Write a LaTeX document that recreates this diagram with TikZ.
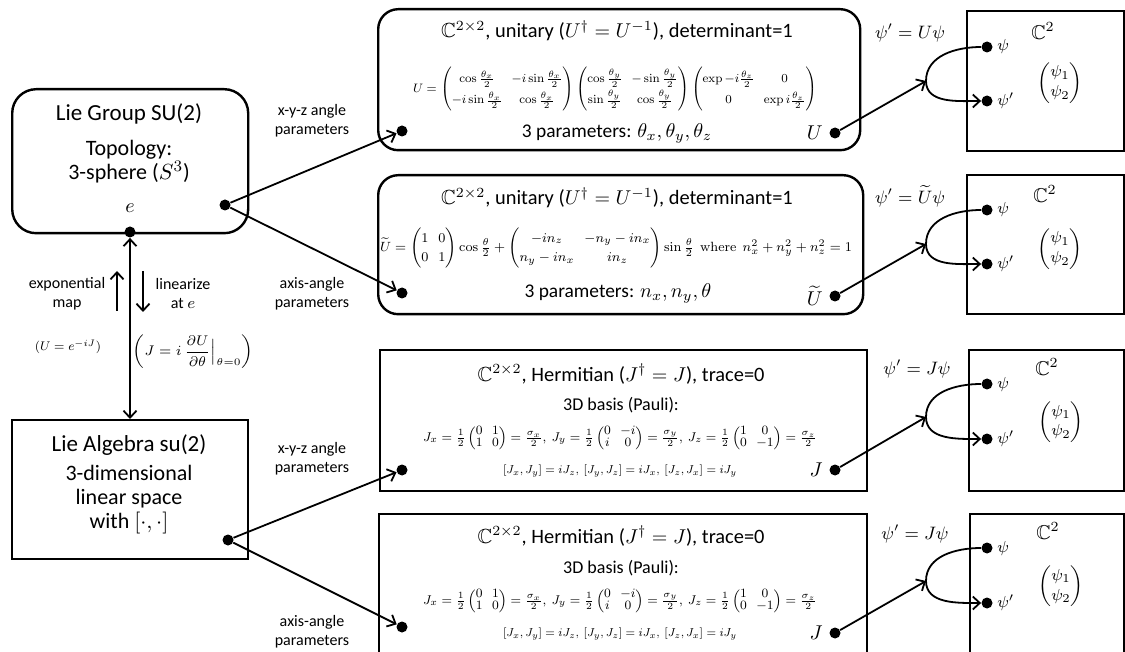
\documentclass[tikz,border=0pt]{standalone}
\usepackage{amsmath,amssymb}
\usepackage{graphicx}
\usepackage[no-math]{fontspec}
\setmainfont{Carlito}
\usetikzlibrary{arrows.meta,positioning,calc}

\tikzset{
  roundbox/.style={draw=black, line width=1.2pt, rounded corners=10pt,
    anchor=north west, inner sep=0pt},
  plainbox/.style={draw=black, line width=1.2pt, anchor=north west, inner sep=0pt},
  dot/.style={circle, fill=black, inner sep=0pt, minimum size=5.5pt},
  conn/.style={line width=0.9pt, -{Straight Barb[length=3.5pt,width=6.5pt]}},
  bigtext/.style={font=\fontsize{11.5}{13}\selectfont},
  subtext/.style={font=\fontsize{11}{12}\selectfont, align=center},
  smalltext/.style={font=\fontsize{8}{9.5}\selectfont, align=center},
  titletext/.style={font=\fontsize{10.2}{12}\selectfont},
  paramtext/.style={font=\fontsize{9.7}{12}\selectfont},
  formtext/.style={font=\fontsize{8}{9.6}\selectfont, inner sep=0pt,
    execute at begin node={\setlength{\arraycolsep}{3pt}}},
  symtext/.style={font=\fontsize{10}{12}\selectfont, inner sep=1pt},
  eqtext/.style={font=\fontsize{9}{11}\selectfont, inner sep=1pt},
  psitext/.style={font=\fontsize{8.5}{10}\selectfont, inner sep=1pt}
}

\newcommand{\paulirow}{\resizebox{197pt}{!}{$J_x=\frac{1}{2}\begin{pmatrix}0&1\\1&0\end{pmatrix}=\frac{\sigma_x}{2},\ J_y=\frac{1}{2}\begin{pmatrix}0&-i\\i&0\end{pmatrix}=\frac{\sigma_y}{2},\ J_z=\frac{1}{2}\begin{pmatrix}1&0\\0&-1\end{pmatrix}=\frac{\sigma_z}{2}$}}
\newcommand{\commrow}{\resizebox{117pt}{!}{$[J_x,J_y]=iJ_z,\ [J_y,J_z]=iJ_x,\ [J_z,J_x]=iJ_y$}}

\begin{document}
\begin{tikzpicture}[x=0.5pt,y=-0.5pt]
  \clip (0,0) rectangle (1125,652);

  % left column: group and algebra
  \node[roundbox, rounded corners=12pt, minimum width=118pt, minimum height=72pt] (grp) at (11,88) {};
  \node[bigtext] (grpT) at (129,114) {Lie Group SU(2)};
  \node[subtext] (grpS) at (129,162) {Topology:\\3-sphere ($S^3$)};
  \node[symtext] (eLbl) at (130,208) {$e$};
  \node[dot] (eDot) at (130,232) {};
  \node[dot] (grpDot) at (225,205) {};

  \node[plainbox, minimum width=118pt, minimum height=69.5pt] (alg) at (11,419) {};
  \node[bigtext] (algT) at (129,445) {Lie Algebra su(2)};
  \node[subtext] (algS) at (129,500) {3-dimensional\\linear space\\with $[\cdot,\cdot]$};
  \node[dot] (algDot) at (228,540) {};

  \draw[line width=0.9pt, {Straight Barb[length=3.5pt,width=6.5pt]}-{Straight Barb[length=3.5pt,width=6.5pt]}]
    (eDot) -- (eDot |- alg.north);

  % exponential map / linearize
  \coordinate (expS) at (117,311);
  \coordinate (expE) at (117,271);
  \coordinate (linS) at (143,271);
  \coordinate (linE) at (143,312);
  \draw[conn] (expS) -- (expE);
  \draw[conn] (linS) -- (linE);
  \node[smalltext] (expLbl) at (67,294) {exponential\\map};
  \node[smalltext] (linLbl) at (183,294) {linearize\\at $e$};
  \node[formtext] (expEq) at (68,347) {\resizebox{33pt}{!}{$(U=e^{-iJ})$}};
  \node[font=\fontsize{7}{8}\selectfont, inner sep=0pt] (linEq) at (193,352)
    {$\left(J=i\,\dfrac{\partial U}{\partial\theta}\Big|_{\theta=0}\right)$};

  % parameter labels
  \node[smalltext] (parA) at (312,121) {x-y-z angle\\parameters};
  \node[smalltext] (parB) at (312,294) {axis-angle\\parameters};
  \node[smalltext] (parC) at (312,459) {x-y-z angle\\parameters};
  \node[smalltext] (parD) at (312,632) {axis-angle\\parameters};

  % middle column
  \node[roundbox, minimum width=241pt, minimum height=70.5pt] (unA) at (377,8) {};
  \node[titletext] (unAT) at (617,31) {$\mathbb{C}^{2\times 2}$, unitary ($U^\dagger=U^{-1}$), determinant=1};
  \node[formtext] (unAF) at (615,89) {\renewcommand{\arraystretch}{1.45}%
    \resizebox{202pt}{!}{$U=\begin{pmatrix}\cos\frac{\theta_x}{2} & -i\sin\frac{\theta_x}{2}\\ -i\sin\frac{\theta_x}{2} & \cos\frac{\theta_x}{2}\end{pmatrix}\begin{pmatrix}\cos\frac{\theta_y}{2} & -\sin\frac{\theta_y}{2}\\ \sin\frac{\theta_y}{2} & \cos\frac{\theta_y}{2}\end{pmatrix}\begin{pmatrix}\exp -i\frac{\theta_z}{2} & 0\\ 0 & \exp i\frac{\theta_z}{2}\end{pmatrix}$}};
  \node[paramtext] (unAP) at (617,133) {3 parameters: $\theta_x,\theta_y,\theta_z$};
  \node[dot] (unADot) at (402,131) {};
  \node[dot] (uA) at (835,133) {};
  \node[symtext, left=2pt of uA] (uALbl) {$U$};

  \node[roundbox, minimum width=242.5pt, minimum height=69.5pt] (unB) at (377,174) {};
  \node[titletext] (unBT) at (617,198) {$\mathbb{C}^{2\times 2}$, unitary ($U^\dagger=U^{-1}$), determinant=1};
  \node[formtext] (unBF) at (616,248) {\renewcommand{\arraystretch}{1.2}%
    \resizebox{236pt}{!}{$\widetilde{U}=\begin{pmatrix}1&0\\0&1\end{pmatrix}\cos\frac{\theta}{2}+\begin{pmatrix}-in_z & -n_y-in_x\\ n_y-in_x & in_z\end{pmatrix}\sin\frac{\theta}{2}\ \ \mathrm{where}\ \ n_x^2+n_y^2+n_z^2=1$}};
  \node[paramtext] (unBP) at (618,293) {3 parameters: $n_x,n_y,\theta$};
  \node[dot] (unBDot) at (402,293) {};
  \node[dot] (uB) at (835,296) {};
  \node[symtext, left=2pt of uB] (uBLbl) {$\widetilde{U}$};

  \node[plainbox, minimum width=243.5pt, minimum height=70.5pt] (hmC) at (379,349) {};
  \node[titletext] (hmCT) at (621,374) {$\mathbb{C}^{2\times 2}$, Hermitian ($J^\dagger=J$), trace=0};
  \node[font=\fontsize{9}{11}\selectfont] (hmCB) at (621,405) {3D basis (Pauli):};
  \node[formtext] (hmCF) at (620,438) {\renewcommand{\arraystretch}{0.8}\paulirow};
  \node[formtext] (hmCC) at (620,471) {\commrow};
  \node[dot] (hmCDot) at (402,470) {};
  \node[dot] (jC) at (835,470) {};
  \node[symtext, left=2pt of jC] (jCLbl) {$J$};

  \node[plainbox, minimum width=244pt, minimum height=80pt] (hmD) at (378,513) {};
  \node[titletext] (hmDT) at (621,536) {$\mathbb{C}^{2\times 2}$, Hermitian ($J^\dagger=J$), trace=0};
  \node[font=\fontsize{9}{11}\selectfont] (hmDB) at (621,568) {3D basis (Pauli):};
  \node[formtext] (hmDF) at (620,601) {\renewcommand{\arraystretch}{0.8}\paulirow};
  \node[formtext] (hmDC) at (620,634) {\commrow};
  \node[dot] (hmDDot) at (402,627) {};
  \node[dot] (jD) at (835,633) {};
  \node[symtext, left=2pt of jD] (jDLbl) {$J$};

  \draw[conn] (grpDot) -- (unADot);
  \draw[conn] (grpDot) -- (unBDot);
  \draw[conn] (algDot) -- (hmCDot);
  \draw[conn] (algDot) -- (hmDDot);

  % right column: C^2
  \node[plainbox, minimum width=78.5pt, minimum height=70pt] (spA) at (966,10) {};
  \node[symtext] (spAT) at (1043,31) {$\mathbb{C}^2$};
  \node[psitext] (spAV) at (1060,83) {$\begin{pmatrix}\psi_1\\ \psi_2\end{pmatrix}$};
  \node[eqtext] (eqA) at (910,33) {$\psi'=U\psi$};
  \node[dot] (psA) at (987,47) {};
  \node[dot] (ppA) at (987,101) {};
  \node[psitext, right=1pt of psA] (psALbl) {$\psi$};
  \node[psitext, right=1pt of ppA] (ppALbl) {$\psi'$};
  \coordinate (fkA) at (926,81);
  \draw[conn] (uA) -- (fkA);
  \draw[conn] (psA) to[out=180, in=90] (fkA) to[out=-90, in=180] (ppA);

  \node[plainbox, minimum width=78.5pt, minimum height=69.5pt] (spB) at (966,174) {};
  \node[symtext] (spBT) at (1045,194) {$\mathbb{C}^2$};
  \node[psitext] (spBV) at (1060,249) {$\begin{pmatrix}\psi_1\\ \psi_2\end{pmatrix}$};
  \node[eqtext] (eqB) at (910,196) {$\psi'=\widetilde{U}\psi$};
  \node[dot] (psB) at (987,210) {};
  \node[dot] (ppB) at (987,264) {};
  \node[psitext, right=1pt of psB] (psBLbl) {$\psi$};
  \node[psitext, right=1pt of ppB] (ppBLbl) {$\psi'$};
  \coordinate (fkB) at (926,244);
  \draw[conn] (uB) -- (fkB);
  \draw[conn] (psB) to[out=180, in=90] (fkB) to[out=-90, in=180] (ppB);

  \node[plainbox, minimum width=77.5pt, minimum height=70.5pt] (spC) at (968,349) {};
  \node[symtext] (spCT) at (1047,367) {$\mathbb{C}^2$};
  \node[psitext] (spCV) at (1061,422) {$\begin{pmatrix}\psi_1\\ \psi_2\end{pmatrix}$};
  \node[eqtext] (eqC) at (917,369) {$\psi'=J\psi$};
  \node[dot] (psC) at (987,384) {};
  \node[dot] (ppC) at (987,439) {};
  \node[psitext, right=1pt of psC] (psCLbl) {$\psi$};
  \node[psitext, right=1pt of ppC] (ppCLbl) {$\psi'$};
  \coordinate (fkC) at (926,417);
  \draw[conn] (jC) -- (fkC);
  \draw[conn] (psC) to[out=180, in=90] (fkC) to[out=-90, in=180] (ppC);

  \node[plainbox, minimum width=77pt, minimum height=80pt] (spD) at (969,513) {};
  \node[symtext] (spDT) at (1048,531) {$\mathbb{C}^2$};
  \node[psitext] (spDV) at (1061,586) {$\begin{pmatrix}\psi_1\\ \psi_2\end{pmatrix}$};
  \node[eqtext] (eqD) at (915,534) {$\psi'=J\psi$};
  \node[dot] (psD) at (987,548) {};
  \node[dot] (ppD) at (987,603) {};
  \node[psitext, right=1pt of psD] (psDLbl) {$\psi$};
  \node[psitext, right=1pt of ppD] (ppDLbl) {$\psi'$};
  \coordinate (fkD) at (926,581);
  \draw[conn] (jD) -- (fkD);
  \draw[conn] (psD) to[out=180, in=90] (fkD) to[out=-90, in=180] (ppD);
\end{tikzpicture}
\end{document}
